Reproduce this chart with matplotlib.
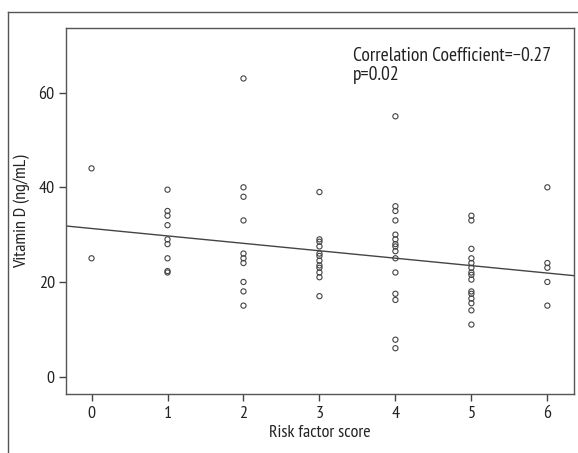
import numpy as np
import matplotlib.pyplot as plt
from matplotlib import font_manager as fm
from matplotlib.lines import Line2D

# pick a condensed sans font if one is installed
installed = {f.name for f in fm.fontManager.ttflist}
wanted = ['PT Sans Narrow', 'Fira Sans Condensed', 'Roboto Condensed', 'Open Sans Condensed',
          'Archivo Narrow', 'IBM Plex Sans Condensed', 'Asap Condensed', 'Encode Sans Condensed',
          'Liberation Sans Narrow']
family = [f for f in wanted if f in installed][:1] + ['DejaVu Sans']
plt.rcParams['font.family'] = family

# Vitamin D values (ng/mL) by risk factor score
score_0 = [44, 25]
score_1 = [39.5, 35, 34, 32, 29, 28, 25, 22.3, 22]
score_2 = [63, 40, 38, 33, 26, 25, 24, 20, 18, 15]
score_3 = [39, 29, 28.5, 27.5, 26, 25.5, 24.5, 23.5, 23, 22, 21, 17]
score_4 = [55, 36, 35, 33, 30, 29, 28, 27.5, 26.5, 25, 22, 17.5, 16.2, 7.8, 6]
score_5 = [34, 33, 27, 25, 24, 23, 22, 21.5, 20.5, 18, 17.5, 16.5, 15.5, 14, 11]
score_6 = [40, 24, 23, 20, 15]
groups = [score_0, score_1, score_2, score_3, score_4, score_5, score_6]

# fit line as drawn in the original
line_intercept = 31.3
line_slope = -1.57

x = np.concatenate([[i] * len(g) for i, g in enumerate(groups)])
y = np.concatenate(groups)

fig = plt.figure(figsize=(5.78, 4.53), dpi=100)
ax = fig.add_axes([0.115, 0.130, 0.878, 0.8075])

ax.scatter(x, y, s=14, facecolors='none', edgecolors='#444444', linewidths=0.8, zorder=3)

xl = np.array([-0.33, 6.35])
ax.plot(xl, line_intercept + line_slope * xl, color='#444444', lw=1.0, zorder=2)

ax.set_xlim(-0.33, 6.35)
ax.set_ylim(-3.7, 73.6)
ax.set_xticks(range(0, 7))
ax.set_yticks([0, 20, 40, 60])
ax.tick_params(direction='out', length=5, width=1, color='#444444', labelsize=13,
               labelcolor='#222222', top=False, right=False)
for s in ax.spines.values():
    s.set_color('#555555')
    s.set_linewidth(1.0)

ax.set_xlabel('Risk factor score', fontsize=13, color='#222222', labelpad=2)
ax.set_ylabel('Vitamin D (ng/mL)', fontsize=13, color='#222222', labelpad=6)

ax.text(0.565, 0.948, 'Correlation Coefficient=\u22120.27\np=0.02', transform=ax.transAxes,
        fontsize=14, color='#222222', va='top', ha='left', linespacing=1.05)

# outer frame (left and top edges visible)
fig.add_artist(Line2D([0.0138, 0.0138], [0.0, 0.9735], color='#555555', lw=1.0))
fig.add_artist(Line2D([0.0138, 1.0], [0.9735, 0.9735], color='#555555', lw=1.0))

fig.savefig('out.png', dpi=100)
